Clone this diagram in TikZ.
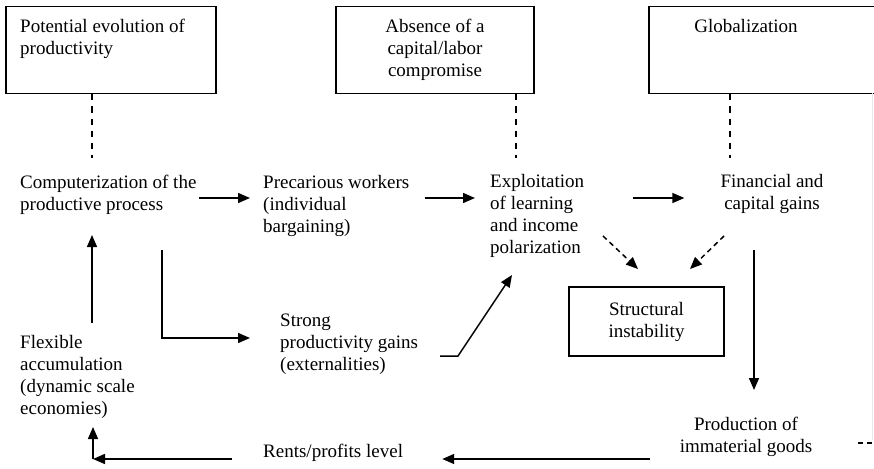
\documentclass[tikz,border=0pt]{standalone}
\usepackage{fontspec}
\setmainfont{Liberation Serif}
\usetikzlibrary{arrows.meta}
\begin{document}
\begin{tikzpicture}[x=1pt,y=-1pt,
  font=\fontsize{19}{22}\selectfont,
  txt/.style={inner sep=0pt, align=left, anchor=north west},
  ctxt/.style={inner sep=0pt, align=center, anchor=north},
  frame/.style={draw, line width=1.5pt, inner sep=0pt, anchor=north west},
  arr/.style={line width=1.5pt, -{Triangle[length=12pt,width=10pt]}},
  dline/.style={line width=1.3pt, dash pattern=on 6pt off 6pt},
  darr/.style={line width=1.5pt, dash pattern=on 5pt off 4pt, -{Triangle[length=12pt,width=10pt]}}]
\useasboundingbox (0,0) rectangle (874,468);

% top boxes
\node[frame, minimum width=210pt, minimum height=87pt] (b1) at (5,6) {};
\node[txt] (b1t) at (20,19) {Potential evolution of\\productivity};
\node[frame, minimum width=198pt, minimum height=87pt] (b2) at (335,6) {};
\node[ctxt] (b2t) at (435,19) {Absence of a\\capital/labor\\compromise};
\node[frame, minimum width=260pt, minimum height=87pt] (b3) at (648,6) {};
\node[ctxt] (b3t) at (746,19) {Globalization};

% text nodes
\node[txt] (comp) at (20,175) {Computerization of the\\productive process};
\node[txt] (prec) at (263,175) {Precarious workers\\(individual\\bargaining)};
\node[txt] (expl) at (490,174) {Exploitation\\of learning\\and income\\polarization};
\node[ctxt] (fin) at (772,174) {Financial and\\capital gains};
\node[draw, line width=1.5pt, inner sep=0pt, minimum width=155pt, minimum height=69pt, align=center] (si) at (646.5,321.5) {Structural\\instability};
\node[txt] (strong) at (280,314) {Strong\\productivity gains\\(externalities)};
\node[txt] (flex) at (20,335) {Flexible\\accumulation\\(dynamic scale\\economies)};
\node[txt] (rents) at (263,444) {Rents/profits level};
\node[ctxt] (prod) at (746,417) {Production of\\immaterial goods};

% coordinates
\coordinate (d1) at (92,158);
\coordinate (d2) at (516,158);
\coordinate (d3) at (730,158);
\coordinate (h1) at (0,198);
\coordinate (s1) at (440,356);
\coordinate (s2) at (458,356);
\coordinate (s3) at (512,275);
\coordinate (c2) at (162,250);
\coordinate (c3) at (250,338);
\coordinate (da1) at (603,236);
\coordinate (da2) at (638,269);
\coordinate (db1) at (724,236);
\coordinate (db2) at (690,269);
\coordinate (v1) at (754,250);
\coordinate (v2) at (754,390);
\coordinate (h5) at (0,459);
\coordinate (k) at (93,459);
\coordinate (k2) at (93,427);
\coordinate (u1) at (92,323);
\coordinate (u2) at (92,235);

% dashed links from boxes
\draw[dline] (d1 |- b1.south) -- (d1);
\draw[dline] (d2 |- b2.south) -- (d2);
\draw[dline] (d3 |- b3.south) -- (d3);

% main arrows
\draw[arr, shorten <=2pt, shorten >=13pt] (comp.east |- h1) -- (prec.west |- h1);
\draw[arr, shorten <=15pt, shorten >=15pt] (prec.east |- h1) -- (expl.west |- h1);
\draw[arr] ([xshift=49pt]expl.east |- h1) -- ([xshift=-36pt]fin.west |- h1);
\draw[darr] (da1) -- (da2);
\draw[darr] (db1) -- (db2);
\draw[arr] (v1) -- (v2);
\draw[arr] ([xshift=-30pt]prod.west |- h5) -- ([xshift=39pt]rents.east |- h5);
\draw[arr] ([xshift=-31pt]rents.west |- h5) -- (k);
\draw[arr] (k) -- (k2);
\draw[arr] (u1) -- (u2);
\draw[arr] (c2) |- (c3);
\draw[arr] (s1) -- (s2) -- (s3);

% cropped remnants at the right edge
\draw[gray!18, line width=0.6pt] (872.5,93) -- (872.5,440);
\draw[line width=1.2pt, dash pattern=on 5pt off 4pt] (858,443) -- (874,443);
\end{tikzpicture}
\end{document}
